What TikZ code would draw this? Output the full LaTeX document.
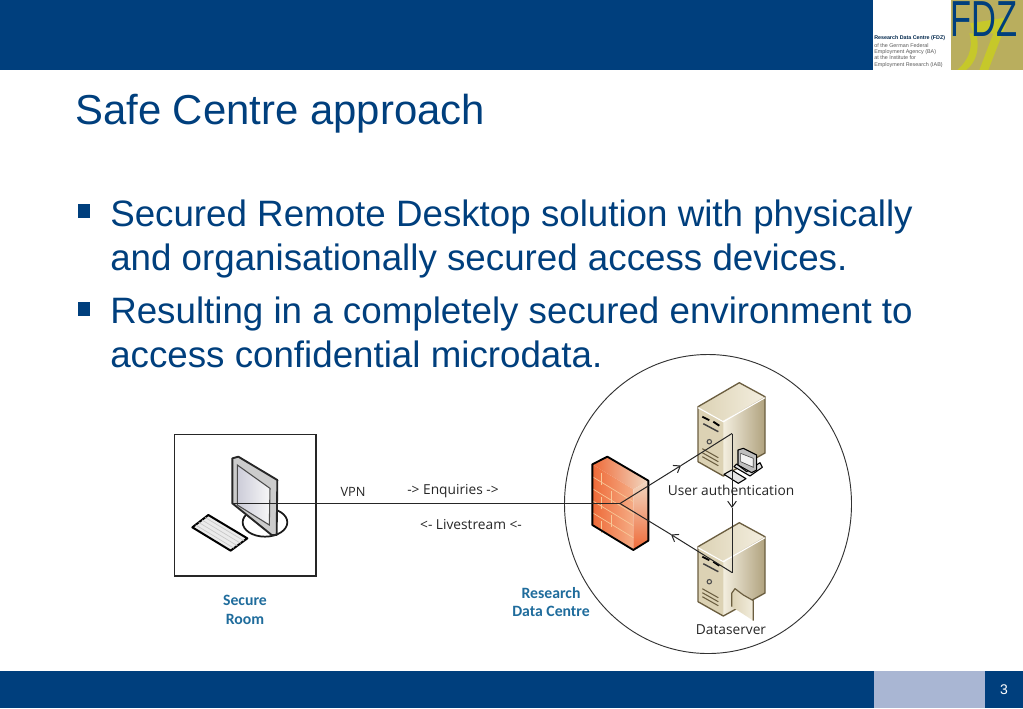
\documentclass[tikz,border=0pt]{standalone}
\usepackage{fontspec}
\usetikzlibrary{arrows.meta}
\setmainfont{Liberation Sans}
\newfontfamily\labelfont{Open Sans}
\newfontfamily\placefont{Carlito}
\definecolor{fdzblue}{HTML}{003F7D}
\definecolor{fdzpale}{HTML}{A9B6D3}
\definecolor{fdzolive}{HTML}{B9AE5E}
\definecolor{fdzlime}{HTML}{C6C82A}
\definecolor{placeblue}{HTML}{1F6C9C}
\definecolor{towerlight}{HTML}{F3EEDF}
\definecolor{towermid}{HTML}{DCD2B4}
\definecolor{towerdark}{HTML}{B0A27E}
\definecolor{towerline}{HTML}{6B5E40}
\definecolor{wallred}{HTML}{EE6A38}
\definecolor{wallsoft}{HTML}{F5AC85}
\definecolor{wallpale}{HTML}{F2D8C2}
\definecolor{wallbrick}{HTML}{F8C898}
\tikzset{
  slidetext/.style={anchor=base west,inner sep=0pt,text=fdzblue,font=\fontsize{27.55}{30}\selectfont},
  marker/.style={fill=fdzblue,draw=none},
  picturetext/.style={inner sep=0pt,font=\labelfont\fontsize{10.3}{12}\selectfont,text=black!85},
  placetext/.style={inner sep=0pt,align=center,text=placeblue,font=\placefont\bfseries\fontsize{11.8}{14}\selectfont},
  logotext/.style={anchor=base west,inner sep=0pt,text=black!65,font=\fontsize{4.05}{5}\selectfont},
  wire/.style={draw=black!85,line width=0.75pt},
  wiretip/.style={wire,-{Straight Barb[length=4.5pt,width=6.5pt]}},
  wallline/.style={draw=black,line width=1.4pt,line join=round},
  servertower/.pic={
    \path[left color=towermid,right color=towerlight] (-41.3,24) -- (0,0) -- (25.7,14) -- (-16,38) -- cycle;
    \path[left color=towerlight,right color=towerdark] (-16,38) -- (25.7,14) -- (25.7,70.3) -- (-16,93.3) -- cycle;
    \fill[towermid] (-41.3,24) -- (-16,38) -- (-16,93.3) -- (-41.3,79) -- cycle;
    \draw[towerline,line width=1pt,line join=round] (-41.3,24) -- (0,0) -- (25.7,14) -- (25.7,70.3) -- (-16,93.3) -- (-41.3,79) -- cycle;
    \draw[white,line width=0.8pt] (-41.3,25) -- (-16,39) -- (25.7,15);
    \draw[black,line width=1.4pt] (-37,34) -- (-30,37.5) (-26,39) -- (-20,43);
    \draw[black!75,line width=1.1pt] (-36,41) -- (-21,49);
    \draw[black!70,line width=0.8pt] (-30,59) circle (2.2);
    \draw[towerline,line width=0.8pt] (-37,66) -- (-21,75) (-37,70) -- (-21,79) (-37,74) -- (-21,83);
  }
}
\begin{document}
\begin{tikzpicture}[x=0.75pt,y=-0.75pt]
\useasboundingbox (0,0) rectangle (1023,708);

\fill[fdzblue] (0,0) rectangle (873,70);
\fill[fdzolive] (951,0) rectangle (1023,70);
\begin{scope}
\clip (951,0) rectangle (1023,70);
\begin{scope}[shift={(950,0)},scale=0.3333]
\fill[fdzlime] (60,70) -- (172,52) -- (166,78) -- (115,210) -- (88,210) -- (130,100) -- (70,98) -- cycle;
\fill[fdzlime] (58,100) -- (78,100) .. controls (92,150) and (75,190) .. (48,210) -- (22,210) .. controls (50,185) and (72,150) .. (58,100) -- cycle;
\end{scope}
\node[anchor=base west,inner sep=0pt,text=fdzblue,xscale=0.68,font=\fontsize{38}{38}\selectfont] (fdzmark) at (950,36) {FDZ};
\end{scope}
\node[logotext,font=\bfseries\fontsize{4.0}{5}\selectfont,text=fdzblue!60!black] (logoa) at (874,39) {Research Data Centre (FDZ)};
\node[logotext] (logob) at (874,47) {of the German Federal};
\node[logotext] (logoc) at (874,53.3) {Employment Agency (BA)};
\node[logotext] (logod) at (874,59.6) {at the Institute for};
\node[logotext] (logoe) at (874,66) {Employment Research (IAB)};

\fill[fdzblue] (0,671) rectangle (1023,708);
\fill[fdzpale] (874,671) rectangle (985,708);
\node[inner sep=0pt,text=white,font=\fontsize{10.5}{12}\selectfont] (pagenum) at (1004,690) {3};

\node[anchor=base west,inner sep=0pt,text=fdzblue,font=\fontsize{31.4}{34}\selectfont] (title) at (75,124) {Safe Centre approach};

\fill[marker] (78,204) rectangle (90,218);
\node[slidetext] (linea) at (110,226) {Secured Remote Desktop solution with physically};
\node[slidetext] (lineb) at (110,270) {and organisationally secured access devices.};
\fill[marker] (78,302) rectangle (90,316);
\node[slidetext] (linec) at (110,323) {Resulting in a completely secured environment to};
\node[slidetext] (lined) at (110,367) {access confidential microdata.};

\draw[black!85,line width=0.8pt] (174.5,434.5) rectangle (316,576);
\draw[black!80,line width=0.7pt] (708,504) circle (143.5 and 149.5);

\node[placetext] (secure) at (245,610) {Secure\\Room};
\node[placetext] (rdc) at (551,602) {Research\\Data Centre};

% keyboard and monitor
\begin{scope}[shift={(160,420)},scale=0.3333]
\fill[black!8,draw=black,line width=1.5pt,line join=round] (97,322) -- (145,285) -- (262,355) -- (212,392) -- cycle;
\foreach \k in {1,...,4}
  \draw[black!22,line width=0.5pt] ({97+\k*9.6},{322-\k*7.4}) -- ({212+\k*10},{392-\k*7.4});
\draw[black!90,fill=white,line width=1.3pt] (315,307) ellipse (67 and 43);
\fill[black!20,draw=black!85,line width=1.4pt,line join=round] (217,115) -- (235,110) -- (352,180) -- (350,345) -- (335,345) -- (217,250) -- cycle;
\shade[left color=blue!25!black!20,right color=black!3,draw=black!70,line width=0.8pt] (232,135) -- (330,205) -- (328,315) -- (232,255) -- cycle;
\end{scope}

% firewall
\begin{scope}[shift={(560,350)},scale=0.3333]
\path[left color=wallred,right color=wallpale] (97,343) -- (142,320) -- (265,392) -- (220,418) -- cycle;
\path[left color=wallred,right color=wallsoft] (97,343) -- (220,418) -- (220,600) -- (97,525) -- cycle;
\path[top color=wallpale,bottom color=wallred] (220,418) -- (265,392) -- (265,572) -- (220,600) -- cycle;
\foreach \r in {0,1,2,3,4}
  \draw[wallbrick,line width=0.5pt] (97,{380+\r*36}) -- (220,{455+\r*36});
\foreach \r/\s in {0/125,1/155,2/125,3/155,4/125}
  \draw[wallbrick,line width=0.5pt] (\s,{\s*0.6+295+\r*36}) -- (\s,{\s*0.6+331+\r*36});
\draw[wallline] (97,343) -- (142,320) -- (265,392) -- (265,572) -- (220,600) -- (97,525) -- cycle;
\end{scope}

\pic (authtower) at (739.3,382.7) {servertower};
\pic (datatower) at (739.3,522.7) {servertower};

% terminal beside the authentication server
\begin{scope}[shift={(560,350)},scale=0.3333]
\fill[black!12,draw=black,line width=0.8pt,line join=round] (522,350) -- (570,378) -- (607,352) -- (600,338) -- (560,365) -- (530,342) -- cycle;
\fill[black!25,draw=black,line width=0.8pt,line join=round] (534,300) -- (550,295) -- (590,315) -- (590,360) -- (575,368) -- (534,345) -- cycle;
\fill[black!5,draw=black!70,line width=0.5pt] (542,310) -- (580,325) -- (580,352) -- (542,335) -- cycle;
\fill[black!10,draw=black,line width=0.8pt,line join=round] (492,373) -- (515,360) -- (558,386) -- (535,400) -- cycle;
% folder in front of the dataserver
\path[left color=towermid,right color=towerlight] (515,730) -- (525,716) -- (550,735) -- (580,752) -- (580,812) -- (515,770) -- cycle;
\draw[towerline,line width=0.9pt,line join=round] (515,770) -- (515,730) -- (525,716) -- (550,735) -- (580,752) -- (580,812);
\end{scope}

\node[picturetext,font=\labelfont\fontsize{9.6}{12}\selectfont] (vpn) at (353,492) {VPN};
\node[picturetext] (enq) at (453,491.5) {-> Enquiries ->};
\node[picturetext] (live) at (471,524.5) {<- Livestream <-};
\node[picturetext] (auth) at (731,490.5) {User authentication};
\node[picturetext] (dataserver) at (731,629.5) {Dataserver};

\coordinate (screen) at (232,503.5);
\coordinate (firewall) at (620,503.5);
\coordinate (authcorner) at (732,433.5);
\coordinate (datacorner) at (732,572.5);
\coordinate (tipa) at (681,465.5);
\coordinate (tipb) at (732,508);
\coordinate (tipc) at (671,534.5);

\draw[wire] (screen) -- (firewall);
\draw[wiretip] (firewall) -- (tipa);
\draw[wire] (tipa) -- (authcorner);
\draw[wiretip] (authcorner) -- (tipb);
\draw[wire] (tipb) -- (datacorner);
\draw[wiretip] (datacorner) -- (tipc);
\draw[wire] (tipc) -- (firewall);
\end{tikzpicture}
\end{document}
